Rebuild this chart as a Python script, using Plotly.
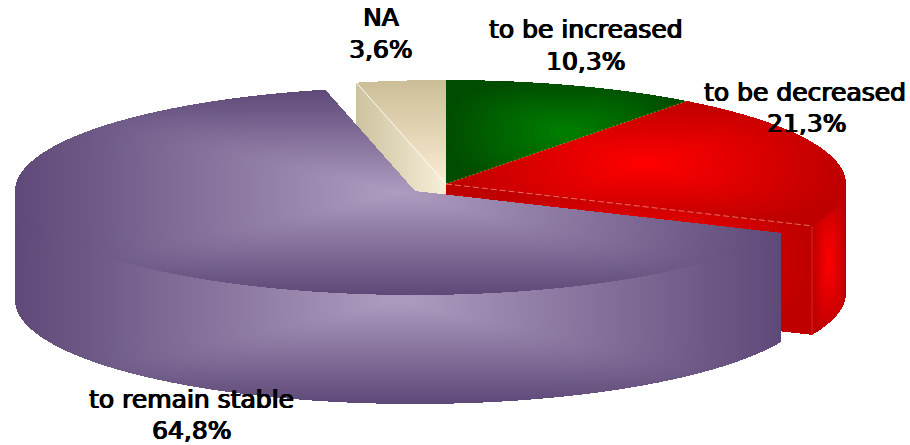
import numpy as np
import plotly.graph_objects as go

# Survey shares, clockwise from twelve o'clock
categories = ["to be increased", "to be decreased", "to remain stable", "NA"]
shares = [10.3, 21.3, 64.8, 3.6]

WIDTH, HEIGHT = 910, 445
RX, RY, DEPTH = 400, 104, 109
CENTER = (446, 184)
PURPLE_CENTER = (415, 191)  # the large slice is pulled out of the pie

# Regular face thickened a little with a sideways shadow
FONT = dict(family="DejaVu Sans", size=25, color="#000000",
            shadow="0.8px 0 0 #000000, -0.6px 0 0 #000000, 0 0.3px 0 #000000")
NAME_POS = {
    "to be increased": (585, 29),
    "to be decreased": (805, 92),
    "to remain stable": (191, 399),
    "NA": (381, 17),
}
VALUE_POS = {
    "to be increased": (585, 61),
    "to be decreased": (806, 123),
    "to remain stable": (191, 430),
    "NA": (381, 49),
}

edges = np.concatenate([[0], np.cumsum(shares)]) * 3.6
ANGLES = {c: (edges[i], edges[i + 1]) for i, c in enumerate(categories)}

xs = np.arange(WIDTH) + 0.5
ys = np.arange(HEIGHT) + 0.5
X, Y = np.meshgrid(xs, ys)


def rim(center, deg):
    a = np.radians(deg)
    return center[0] + RX * np.sin(a), center[1] - RY * np.cos(a)


def top_mask(center, a0, a1):
    u = (X - center[0]) / RX
    v = (center[1] - Y) / RY
    theta = np.degrees(np.arctan2(u, v)) % 360
    return (u * u + v * v <= 1) & (theta >= a0) & (theta <= a1)


def wall_mask(center, x0, x1):
    u = np.clip((X - center[0]) / RX, -1, 1)
    lower = center[1] + RY * np.sqrt(1 - u * u)
    return (X >= x0) & (X <= x1) & (Y >= lower) & (Y <= lower + DEPTH) & (np.abs(X - center[0]) <= RX)


def cut_mask(center, deg):
    px, py = rim(center, deg)
    x0, x1 = sorted((center[0], px))
    line = center[1] + (X - center[0]) * (py - center[1]) / (px - center[0])
    return (X >= x0) & (X <= x1) & (Y >= line) & (Y <= line + DEPTH)


def extent(mask):
    yy, xx = np.where(mask)
    return xs[xx.min()], xs[xx.max()], ys[yy.min()], ys[yy.max()]


def path_shade(mask, p=3.0):
    # Rounded-rectangle path gradient: 0 at the middle of the shape, 1 at its box
    x0, x1, y0, y1 = extent(mask)
    dx = np.abs(X - (x0 + x1) / 2) / max((x1 - x0) / 2, 1)
    dy = np.abs(Y - (y0 + y1) / 2) / max((y1 - y0) / 2, 1)
    return (dx ** p + dy ** p) ** (1 / p)


def face(mask, shade, inner, outer, name):
    x0, x1, y0, y1 = extent(mask)
    ix = (xs >= x0) & (xs <= x1)
    iy = (ys >= y0) & (ys <= y1)
    z = np.where(mask, np.clip(shade, 0, 1), np.nan)[np.ix_(iy, ix)].astype("float32")
    return go.Heatmap(
        x=xs[ix], y=ys[iy], z=z, zmin=0, zmax=1, zsmooth=False,
        colorscale=[[0, inner], [1, outer]], showscale=False,
        hoverinfo="skip", name=name,
    )


PURPLE = ("#AE9CC0", "#5E4978")
RED = ("#FF0000", "#BE0000")
GREEN = ("#008000", "#004C00")

inc, dec, stable, na = (ANGLES[c] for c in categories)
traces = []

# Back faces first, then the walls and tops of the slices in front of them
m = cut_mask(CENTER, na[0])
x0, x1, _, _ = extent(m)
traces.append(face(m, (x1 - X) / (x1 - x0), "#F6EED8", "#CDC3A0", "NA cut"))

m = cut_mask(CENTER, dec[1])
traces.append(face(m, path_shade(m), *RED, "decreased cut"))

seam_x, seam_y = rim(CENTER, dec[1])
m = wall_mask(CENTER, seam_x, CENTER[0] + RX)
traces.append(face(m, path_shade(m), *RED, "decreased wall"))

m = top_mask(CENTER, *na)
_, _, y0, y1 = extent(m)
traces.append(face(m, (y1 - Y) / (y1 - y0), "#FAECD2", "#CBBE97", "NA top"))

m = top_mask(CENTER, *inc)
traces.append(face(m, path_shade(m), *GREEN, "increased top"))

m = top_mask(CENTER, *dec)
traces.append(face(m, path_shade(m), *RED, "decreased top"))

# The large slice keeps crisp mitres so its wall and top melt together at the far left
px, py = rim(PURPLE_CENTER, stable[0])
m = wall_mask(PURPLE_CENTER, PURPLE_CENTER[0] - RX, px)
traces.append(face(m, path_shade(m, 8.0), *PURPLE, "stable wall"))

m = top_mask(PURPLE_CENTER, *stable)
traces.append(face(m, path_shade(m, 8.0), *PURPLE, "stable top"))

fig = go.Figure(traces)


def seam(p, q, color, dash="solid", width=1):
    fig.add_trace(go.Scatter(
        x=[p[0], q[0]], y=[p[1], q[1]], mode="lines",
        line=dict(color=color, width=width, dash=dash),
        hoverinfo="skip", showlegend=False,
    ))


# Highlights along the slice edges
seam(CENTER, rim(CENTER, na[0]), "#FFFDF5")
seam(CENTER, rim(CENTER, inc[1]), "#B89040", "2px,2px", 0.8)
seam(CENTER, rim(CENTER, dec[1]), "#E88A80", "6px,3px", 0.8)
seam((seam_x, seam_y), (seam_x, seam_y + DEPTH), "#E03030", width=0.8)

for cat, value in zip(categories, shares):
    fig.add_annotation(x=NAME_POS[cat][0], y=NAME_POS[cat][1], text=cat,
                       showarrow=False, font=FONT)
    fig.add_annotation(x=VALUE_POS[cat][0], y=VALUE_POS[cat][1],
                       text=f"{value:.1f}%".replace(".", ","),
                       showarrow=False, font=FONT)

fig.update_layout(
    width=WIDTH, height=HEIGHT, margin=dict(l=0, r=0, t=0, b=0),
    paper_bgcolor="#FFFFFF", plot_bgcolor="#FFFFFF", showlegend=False,
    xaxis=dict(range=[0, WIDTH], visible=False, fixedrange=True),
    yaxis=dict(range=[HEIGHT, 0], visible=False, fixedrange=True),
)
fig.write_html("out.html", config=dict(displayModeBar=False))
